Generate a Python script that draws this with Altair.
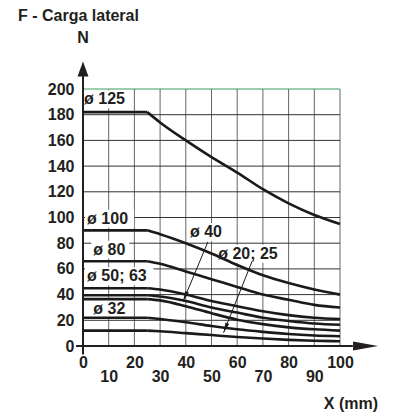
import altair as alt
import pandas as pd

# ---- data ----
x_pts = [0, 25, 30, 40, 50, 60, 70, 80, 90, 100]
c125 = [182, 182, 174, 160, 147, 135, 122, 111, 102, 95]
c100 = [90, 90, 87, 80, 72, 63, 55, 49, 44, 40]
c80 = [66, 66, 64, 58, 52, 46, 40, 36, 32, 30]
c63 = [45, 45, 44, 40, 35, 31, 27, 24, 22, 21]
c50 = [39.5, 39.5, 38.5, 35, 30, 26, 22, 19.5, 17.5, 16.5]
c40 = [36.5, 36.5, 35.5, 31, 25.5, 20.5, 17, 14.5, 13, 12]
c32 = [22, 22, 21, 18.5, 15.5, 13, 11, 9.3, 8.2, 7.6]
c25 = [12, 12, 11.5, 10, 8.5, 7, 5.8, 4.8, 4.1, 3.7]
series = {"c125": c125, "c100": c100, "c80": c80, "c63": c63,
          "c50": c50, "c40": c40, "c32": c32, "c25": c25}

x_ticks = [0, 10, 20, 30, 40, 50, 60, 70, 80, 90, 100]
y_ticks = [0, 20, 40, 60, 80, 100, 120, 140, 160, 180, 200]

lab_text = ["ø 125", "ø 100", "ø 80", "ø 50; 63", "ø 32", "ø 40", "ø 20; 25"]
lab_x = [0.4, 1.6, 4.0, 1.6, 4.0, 41.6, 52.6]
lab_y = [192, 99, 75, 54.3, 29, 88.5, 71.7]
lab_w = [17, 17.5, 13.2, 25, 13.2, 13, 24.5]

arr_x = [48.6, 65.8]
arr_y = [81, 66]
arr_x2 = [39, 54.7]
arr_y2 = [35, 10.4]

FONT = "Liberation Sans"
INK = "#231f20"

rows = []
for name, vals in series.items():
    for x, v in zip(x_pts, vals):
        if x <= 25:
            rows.append({"s": name, "seg": "flat", "x": x, "y": v})
        if x >= 25:
            rows.append({"s": name, "seg": "curve", "x": x, "y": v})
curves_df = pd.DataFrame(rows)

lab_df = pd.DataFrame({"t": lab_text, "x": lab_x, "y": lab_y, "w": lab_w})
lab_df["bx"] = lab_df["x"] - 0.8
lab_df["bx2"] = lab_df["x"] + lab_df["w"] + 0.8
lab_df["by"] = lab_df["y"] - 7
lab_df["by2"] = lab_df["y"] + 7

arr_df = pd.DataFrame({"x": arr_x, "y": arr_y, "x2": arr_x2, "y2": arr_y2})

xs = alt.Scale(domain=[0, 100], nice=False, zero=False)
ys = alt.Scale(domain=[0, 200], nice=False, zero=False)

xax = alt.Axis(
    values=x_ticks, title=None, grid=False, domain=False, ticks=False,
    labelFont=FONT, labelFontWeight="bold", labelFontSize=16, labelColor=INK,
    labelPadding=8, labelLineHeight=14, labelOverlap=False, labelFlush=False,
    labelBound=False,
    labelExpr="datum.value % 20 == 0 ? datum.label : ['', datum.label]")
yax = alt.Axis(
    values=y_ticks, title=None, grid=False, domain=False, ticks=False,
    labelFont=FONT, labelFontWeight="bold", labelFontSize=16, labelColor=INK,
    labelPadding=9, labelOverlap=False, labelFlush=False, labelBound=False)


def X(f):
    return alt.X(f, scale=xs, axis=xax)


def Y(f):
    return alt.Y(f, scale=ys, axis=yax)


vgrid_df = pd.DataFrame({"x": x_ticks[1:], "y": 0, "y2": 200})
hgrid_df = pd.DataFrame({"y": y_ticks[1:], "x": 0, "x2": 100,
                         "top": [v == 200 for v in y_ticks[1:]]})

vgrid = alt.Chart(vgrid_df).mark_rule(color="#666666", strokeWidth=1).encode(
    x=X("x:Q"), y=Y("y:Q"), y2="y2:Q")

hgrid = alt.Chart(hgrid_df).mark_rule(strokeWidth=1).encode(
    x=X("x:Q"), x2="x2:Q", y=Y("y:Q"),
    color=alt.condition("datum.top", alt.value("#3c9a5f"), alt.value("#333333")))

boxes = alt.Chart(lab_df).mark_rect(color="white").encode(
    x=X("bx:Q"), x2="bx2:Q", y=Y("by:Q"), y2="by2:Q")

curves = alt.Chart(curves_df).mark_line(color="#1a1a1a", strokeWidth=2.6,
                                        interpolate="monotone").encode(
    x=X("x:Q"), y=Y("y:Q"), detail=["s:N", "seg:N"])

labels = alt.Chart(lab_df).mark_text(align="left", baseline="middle", font=FONT,
                                     fontWeight="bold", fontSize=16, color=INK).encode(
    x=X("x:Q"), y=Y("y:Q"), text="t:N")

arrows = alt.Chart(arr_df).mark_rule(color="#1a1a1a", strokeWidth=1).encode(
    x=X("x:Q"), y=Y("y:Q"), x2="x2:Q", y2="y2:Q")

heads = alt.Chart(arr_df).mark_point(shape="M0,0L0.4,2L-0.4,2Z", filled=True, size=100,
                                     angle=202, color="#1a1a1a", opacity=1,
                                     strokeWidth=0).encode(
    x=X("x2:Q"), y=Y("y2:Q"))

ax_df = pd.DataFrame({"x": [-2.7], "x2": [105.0], "y": [-6.6], "y2": [211.0],
                      "xt": [114.8], "yt": [221.4], "z": [0.0]})

xaxis = alt.Chart(ax_df).mark_rule(color=INK, strokeWidth=2).encode(
    x=X("x:Q"), x2="x2:Q", y=Y("z:Q"))
yaxis = alt.Chart(ax_df).mark_rule(color=INK, strokeWidth=2).encode(
    x=X("z:Q"), y=Y("y:Q"), y2="y2:Q")
xhead = alt.Chart(ax_df).mark_point(shape="M0,0L-2,-0.36L-2,0.36Z", filled=True, size=625,
                                    color=INK, opacity=1, strokeWidth=0).encode(
    x=X("xt:Q"), y=Y("z:Q"))
yhead = alt.Chart(ax_df).mark_point(shape="M0,0L0.73,2L-0.73,2Z", filled=True, size=225,
                                    color=INK, opacity=1, strokeWidth=0).encode(
    x=X("z:Q"), y=Y("yt:Q"))

one = pd.DataFrame({"a": [0]})
title = alt.Chart(one).mark_text(text="F - Carga lateral", align="left", baseline="alphabetic",
                                 font=FONT, fontWeight="bold", fontSize=16, color=INK).encode(
    x=alt.value(-65), y=alt.value(-68))
nlab = alt.Chart(one).mark_text(text="N", align="center", baseline="middle",
                                font=FONT, fontWeight="bold", fontSize=16, color=INK).encode(
    x=alt.value(0), y=alt.value(-51))
xlab = alt.Chart(one).mark_text(text="X (mm)", align="right", baseline="middle",
                                font=FONT, fontWeight="bold", fontSize=16, color=INK).encode(
    x=alt.value(295), y=alt.value(315))

chart = alt.layer(vgrid, hgrid, boxes, curves, labels, arrows, heads,
                  xaxis, yaxis, xhead, yhead, title, nlab, xlab).properties(
    width=257, height=257,
    padding={"left": 75, "top": 81, "right": 40, "bottom": 66},
    autosize=alt.AutoSizeParams(type="none"),
).configure_view(stroke=None)

chart.save("out.html", embed_options={"renderer": "svg", "actions": False})
